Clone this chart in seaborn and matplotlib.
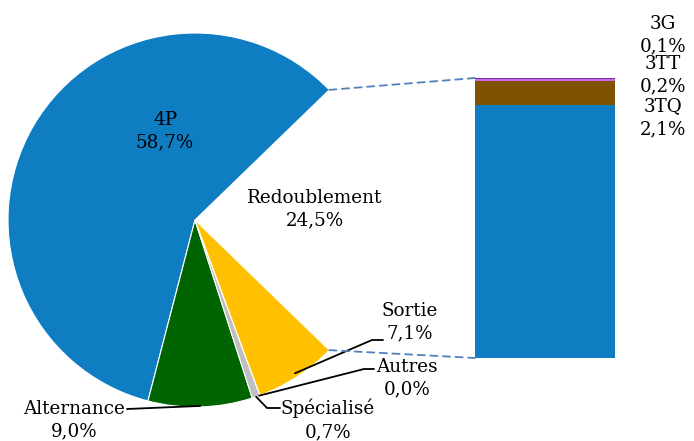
import numpy as np
import matplotlib
matplotlib.use("Agg")
import matplotlib.pyplot as plt
from matplotlib.patches import ConnectionPatch
import seaborn as sns

# --- données ---
pie_labels = ["4P", "Alternance", "Spécialisé", "Autres", "Sortie", "Redoublement"]
pie_values = [58.7, 9.0, 0.7, 0.0, 7.1, 24.5]
pie_colors = ["#0E7DC2", "#006400", "#BFBFBF", "#A5A5A5", "#FFC000", "none"]

bar_labels = ["3P", "3TQ", "3TT", "3G"]
bar_values = [22.1, 2.1, 0.2, 0.1]
bar_colors = ["#0E7DC2", "#7F5200", "#CC66EE", "#7030A0"]


def fmt(v):
    return f"{v:.1f}%".replace(".", ",")


sns.set_theme(style="white")
plt.rcParams["font.family"] = ["DejaVu Serif"]
FS = 13.2

W, H = 694, 441
fig = plt.figure(figsize=(W / 100, H / 100), dpi=100)

# axe du camembert en coordonnées pixels (y vers le haut)
ax = fig.add_axes([0, 0, 1, 1])
ax.set_xlim(0, W)
ax.set_ylim(0, H)
ax.axis("off")

cx, cy, r = 195, H - 220, 187
start = pie_values[-1] / 100 * 360 / 2
wedges, _ = ax.pie(pie_values, colors=pie_colors, startangle=start,
                   counterclock=True, center=(cx, cy), radius=r,
                   wedgeprops=dict(edgecolor="white", linewidth=0.8))
wedges[-1].set_edgecolor("none")
ax.set_xlim(0, W)
ax.set_ylim(0, H)
ax.set_aspect("auto")


def edge_point(angle_deg, rad=r):
    a = np.deg2rad(angle_deg)
    return cx + rad * np.cos(a), cy + rad * np.sin(a)


# angles des parts
cum = np.cumsum([0] + pie_values)
theta1 = start + cum[:-1] / 100 * 360
theta2 = start + cum[1:] / 100 * 360
mid = (theta1 + theta2) / 2

# --- barre empilée ---
bx0, by0, bw, bh = 475, H - 358, 140, 280
axb = fig.add_axes([bx0 / W, by0 / H, bw / W, bh / H])
bottom = 0
for lab, val, col in zip(bar_labels, bar_values, bar_colors):
    sns.barplot(x=[0], y=[val], bottom=bottom, color=col, width=1,
                saturation=1, linewidth=0, ax=axb)
    bottom += val
axb.set_xlim(-0.5, 0.5)
axb.set_ylim(0, sum(bar_values))
axb.axis("off")

# lignes pointillées de connexion
total = sum(bar_values)
for ang, yb in [(theta1[0], total), (theta2[-2], 0)]:
    con = ConnectionPatch(xyA=edge_point(ang), coordsA=ax.transData,
                          xyB=(-0.5, yb), coordsB=axb.transData,
                          color="#4F81BD", linestyle=(0, (4, 3)), linewidth=1.3)
    fig.add_artist(con)

# --- étiquettes ---
def label(x, y, text, **kw):
    ax.text(x, H - y, text, ha="center", va="center", fontsize=FS,
            color="black", linespacing=1.35, **kw)


label(165, 131, f"4P\n{fmt(pie_values[0])}")
label(315, 209, f"Redoublement\n{fmt(pie_values[5])}")
label(545, 252, f"3P\n{fmt(bar_values[0])}")
label(663, 35, f"3G\n{fmt(bar_values[3])}")
label(663, 75, f"3TT\n{fmt(bar_values[2])}")
label(663, 118, f"3TQ\n{fmt(bar_values[1])}")
label(410, 322, f"Sortie\n{fmt(pie_values[4])}")
label(407, 378, f"Autres\n{fmt(pie_values[3])}")
label(74, 420, f"Alternance\n{fmt(pie_values[1])}")
label(328, 420, f"Spécialisé\n{fmt(pie_values[2])}")

# lignes de rappel
lk = dict(color="black", linewidth=1.3)
x, y = edge_point(mid[4], r - 4)
ax.plot([x, 372, 383], [y, H - 340, H - 340], **lk)
x, y = edge_point(theta1[3] - 0.3)
ax.plot([x, 364, 374], [y, H - 369, H - 369], **lk)
x, y = edge_point(mid[2])
ax.plot([x, 267, 280], [y, H - 408, H - 408], **lk)
x, y = edge_point(mid[1], r - 1)
ax.plot([127, x], [H - 409, y], **lk)

fig.savefig("out.png", dpi=100)
